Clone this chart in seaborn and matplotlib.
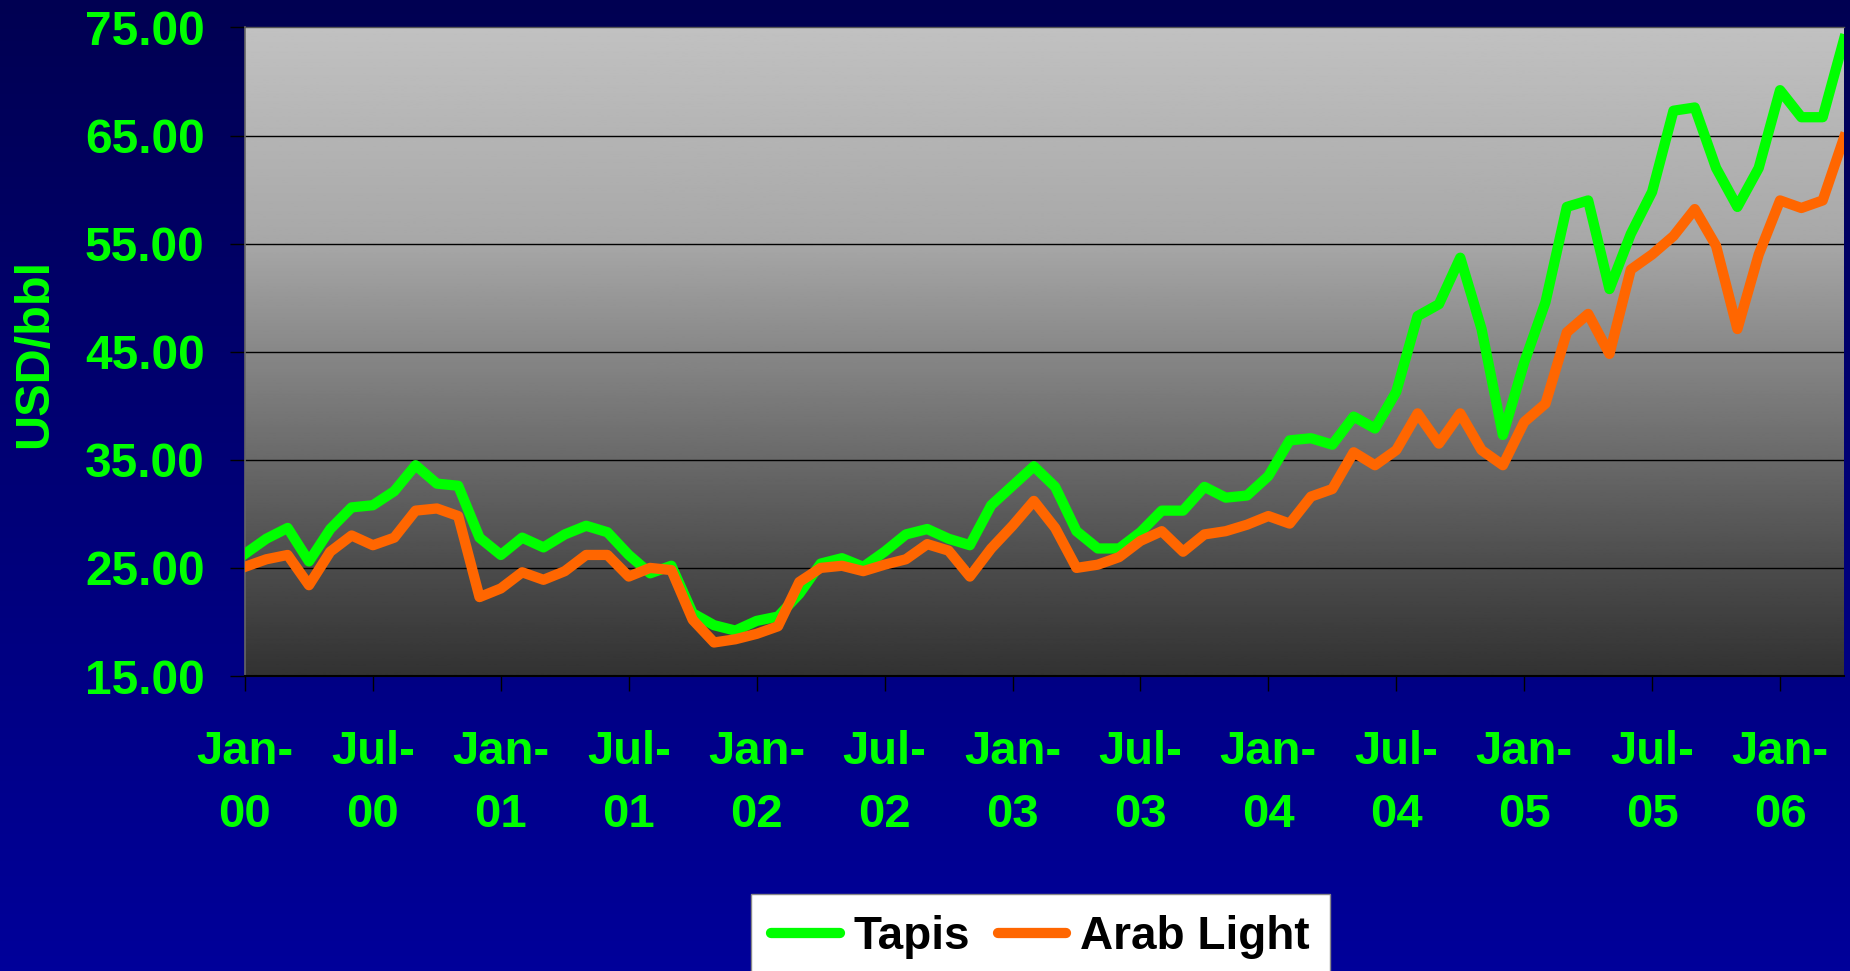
import numpy as np
import pandas as pd
import matplotlib
matplotlib.use("Agg")
import matplotlib.pyplot as plt
import seaborn as sns
from matplotlib.lines import Line2D

# ---------------- data ----------------
start_year = 2000
n_months = 76  # Jan-00 .. Apr-06
month_names = ["Jan", "Feb", "Mar", "Apr", "May", "Jun",
               "Jul", "Aug", "Sep", "Oct", "Nov", "Dec"]
months = [f"{month_names[i % 12]}-{(start_year + i // 12) % 100:02d}" for i in range(n_months)]

tapis = [26.3, 27.7, 28.7, 25.6, 28.6, 30.6, 30.8, 32.1, 34.5, 32.8, 32.6, 27.8,
         26.2, 27.8, 26.9, 28.1, 28.9, 28.3, 26.2, 24.5, 25.2, 20.8, 19.7, 19.2,
         20.1, 20.5, 22.6, 25.4, 25.9, 25.1, 26.5, 28.1, 28.6, 27.7, 27.1, 30.8,
         32.6, 34.4, 32.5, 28.4, 26.8, 26.8, 28.3, 30.3, 30.3, 32.5, 31.5, 31.7,
         33.5, 36.8, 37.0, 36.4, 39.0, 37.9, 41.3, 48.3, 49.4, 53.7, 47.1, 37.3,
         44.0, 49.6, 58.4, 59.0, 50.8, 55.9, 59.8, 67.3, 67.6, 62.0, 58.4, 62.0,
         69.2, 66.7, 66.7, 73.9]

arab_light = [25.1, 25.8, 26.2, 23.4, 26.5, 28.0, 27.1, 27.8, 30.3, 30.5, 29.8, 22.3,
              23.1, 24.6, 23.9, 24.7, 26.2, 26.2, 24.2, 25.0, 24.8, 20.2, 18.1, 18.4,
              18.9, 19.6, 23.7, 25.0, 25.2, 24.7, 25.3, 25.8, 27.2, 26.6, 24.2, 26.8,
              28.9, 31.2, 28.7, 25.0, 25.3, 26.0, 27.5, 28.4, 26.5, 28.1, 28.4, 29.0,
              29.8, 29.1, 31.6, 32.3, 35.7, 34.5, 35.9, 39.3, 36.5, 39.3, 35.9, 34.5,
              38.5, 40.2, 46.8, 48.5, 44.8, 52.6, 54.0, 55.7, 58.2, 54.8, 47.1, 54.0,
              59.0, 58.3, 59.0, 64.8]

series_names = ["Tapis", "Arab Light"]
series_colors = ["#00FF00", "#FF6600"]
y_ticks = [15, 25, 35, 45, 55, 65, 75]
y_label = "USD/bbl"

# ---------------- frame ----------------
df = pd.DataFrame({
    "idx": list(range(n_months)) * 2,
    "month": months * 2,
    "price": tapis + arab_light,
    "crude": [series_names[0]] * n_months + [series_names[1]] * n_months,
})

W, H = 1850, 971
fig = plt.figure(figsize=(W / 100, H / 100), dpi=100)

# figure background gradient (dark navy -> blue)
bg = fig.add_axes([0, 0, 1, 1], zorder=-5)
t = np.linspace(0, 1, 256)[:, None]
top_c = np.array([0, 0, 0x52]) / 255
bot_c = np.array([0, 0, 0x9A]) / 255
grad = top_c + (bot_c - top_c) * t
bg.imshow(np.repeat(grad[:, None, :], 2, axis=1).reshape(256, 2, 3), aspect="auto",
          extent=[0, 1, 0, 1], origin="upper")
bg.axis("off")

ax_l, ax_r, ax_t, ax_b = 245, 1844, 27.5, 676
ax = fig.add_axes([ax_l / W, 1 - ax_b / H, (ax_r - ax_l) / W, (ax_b - ax_t) / H], zorder=1)
ax.set_facecolor("none")

# plot area gradient (light grey top -> dark grey bottom)
fr = np.linspace(0, 1, 400)
gv = np.interp(fr, [0, 0.327, 0.54, 0.82, 1.0], [193, 168, 128, 78, 50]) / 255
pgrad = np.repeat(gv[:, None], 2, axis=1)
ax.imshow(pgrad, cmap="gray", vmin=0, vmax=1, aspect="auto",
          extent=[0, n_months - 1, y_ticks[0], y_ticks[-1]], origin="upper", zorder=0)

sns.lineplot(data=df, x="idx", y="price", hue="crude", palette=series_colors,
             hue_order=series_names, linewidth=7.4, ax=ax, legend=False, zorder=3,
             estimator=None)

ax.set_xlim(0, n_months - 1)
ax.set_ylim(y_ticks[0], y_ticks[-1])

# grid
for v in y_ticks[1:-1]:
    ax.axhline(v, color="black", lw=1.0, zorder=1)

font_main = ["Liberation Sans", "DejaVu Sans"]
green = "#00FF00"

ax.set_yticks(y_ticks)
ax.set_yticklabels([f"{v:.2f}" for v in y_ticks], fontsize=34.5, fontweight="bold",
                   color=green, family=font_main)
xt = list(range(0, n_months, 6))
ax.set_xticks(xt)
ax.set_xticklabels([months[i].replace("-", "-\n") for i in xt], fontsize=34,
                   fontweight="bold", color=green, family=font_main, linespacing=1.55)
ax.tick_params(axis="y", direction="out", length=11, width=1, color="black", pad=18)
ax.tick_params(axis="x", direction="out", length=11, width=1, color="black", pad=28)

ax.set_xlabel("")
ax.set_ylabel(y_label, fontsize=35, fontweight="bold", color=green, family=font_main)
ax.yaxis.label.set_verticalalignment("center")
ax.yaxis.label.set_horizontalalignment("center")
ax.yaxis.set_label_coords((35 - ax_l) / (ax_r - ax_l), (ax_b - 353) / (ax_b - ax_t))

ax.spines["right"].set_visible(False)
ax.spines["top"].set_color("#555555")
ax.spines["top"].set_linewidth(1)
ax.spines["left"].set_color("#666666")
ax.spines["left"].set_linewidth(1.2)
ax.spines["bottom"].set_color("black")
ax.spines["bottom"].set_linewidth(1.5)

handles = [Line2D([0], [0], color=c, lw=7.4, solid_capstyle="round") for c in series_colors]
leg = fig.legend(handles, series_names, loc="upper center",
                 bbox_to_anchor=((750 + 1331) / 2 / W, 1 - 894 / H),
                 ncol=2, frameon=True, fancybox=False, framealpha=1,
                 edgecolor="#888888", facecolor="white",
                 prop={"family": font_main, "weight": "bold", "size": 33},
                 handlelength=1.5, handletextpad=0.3, columnspacing=0.6,
                 borderpad=0.45, borderaxespad=0)
leg.get_frame().set_linewidth(1)

fig.savefig("out.png", dpi=100)
